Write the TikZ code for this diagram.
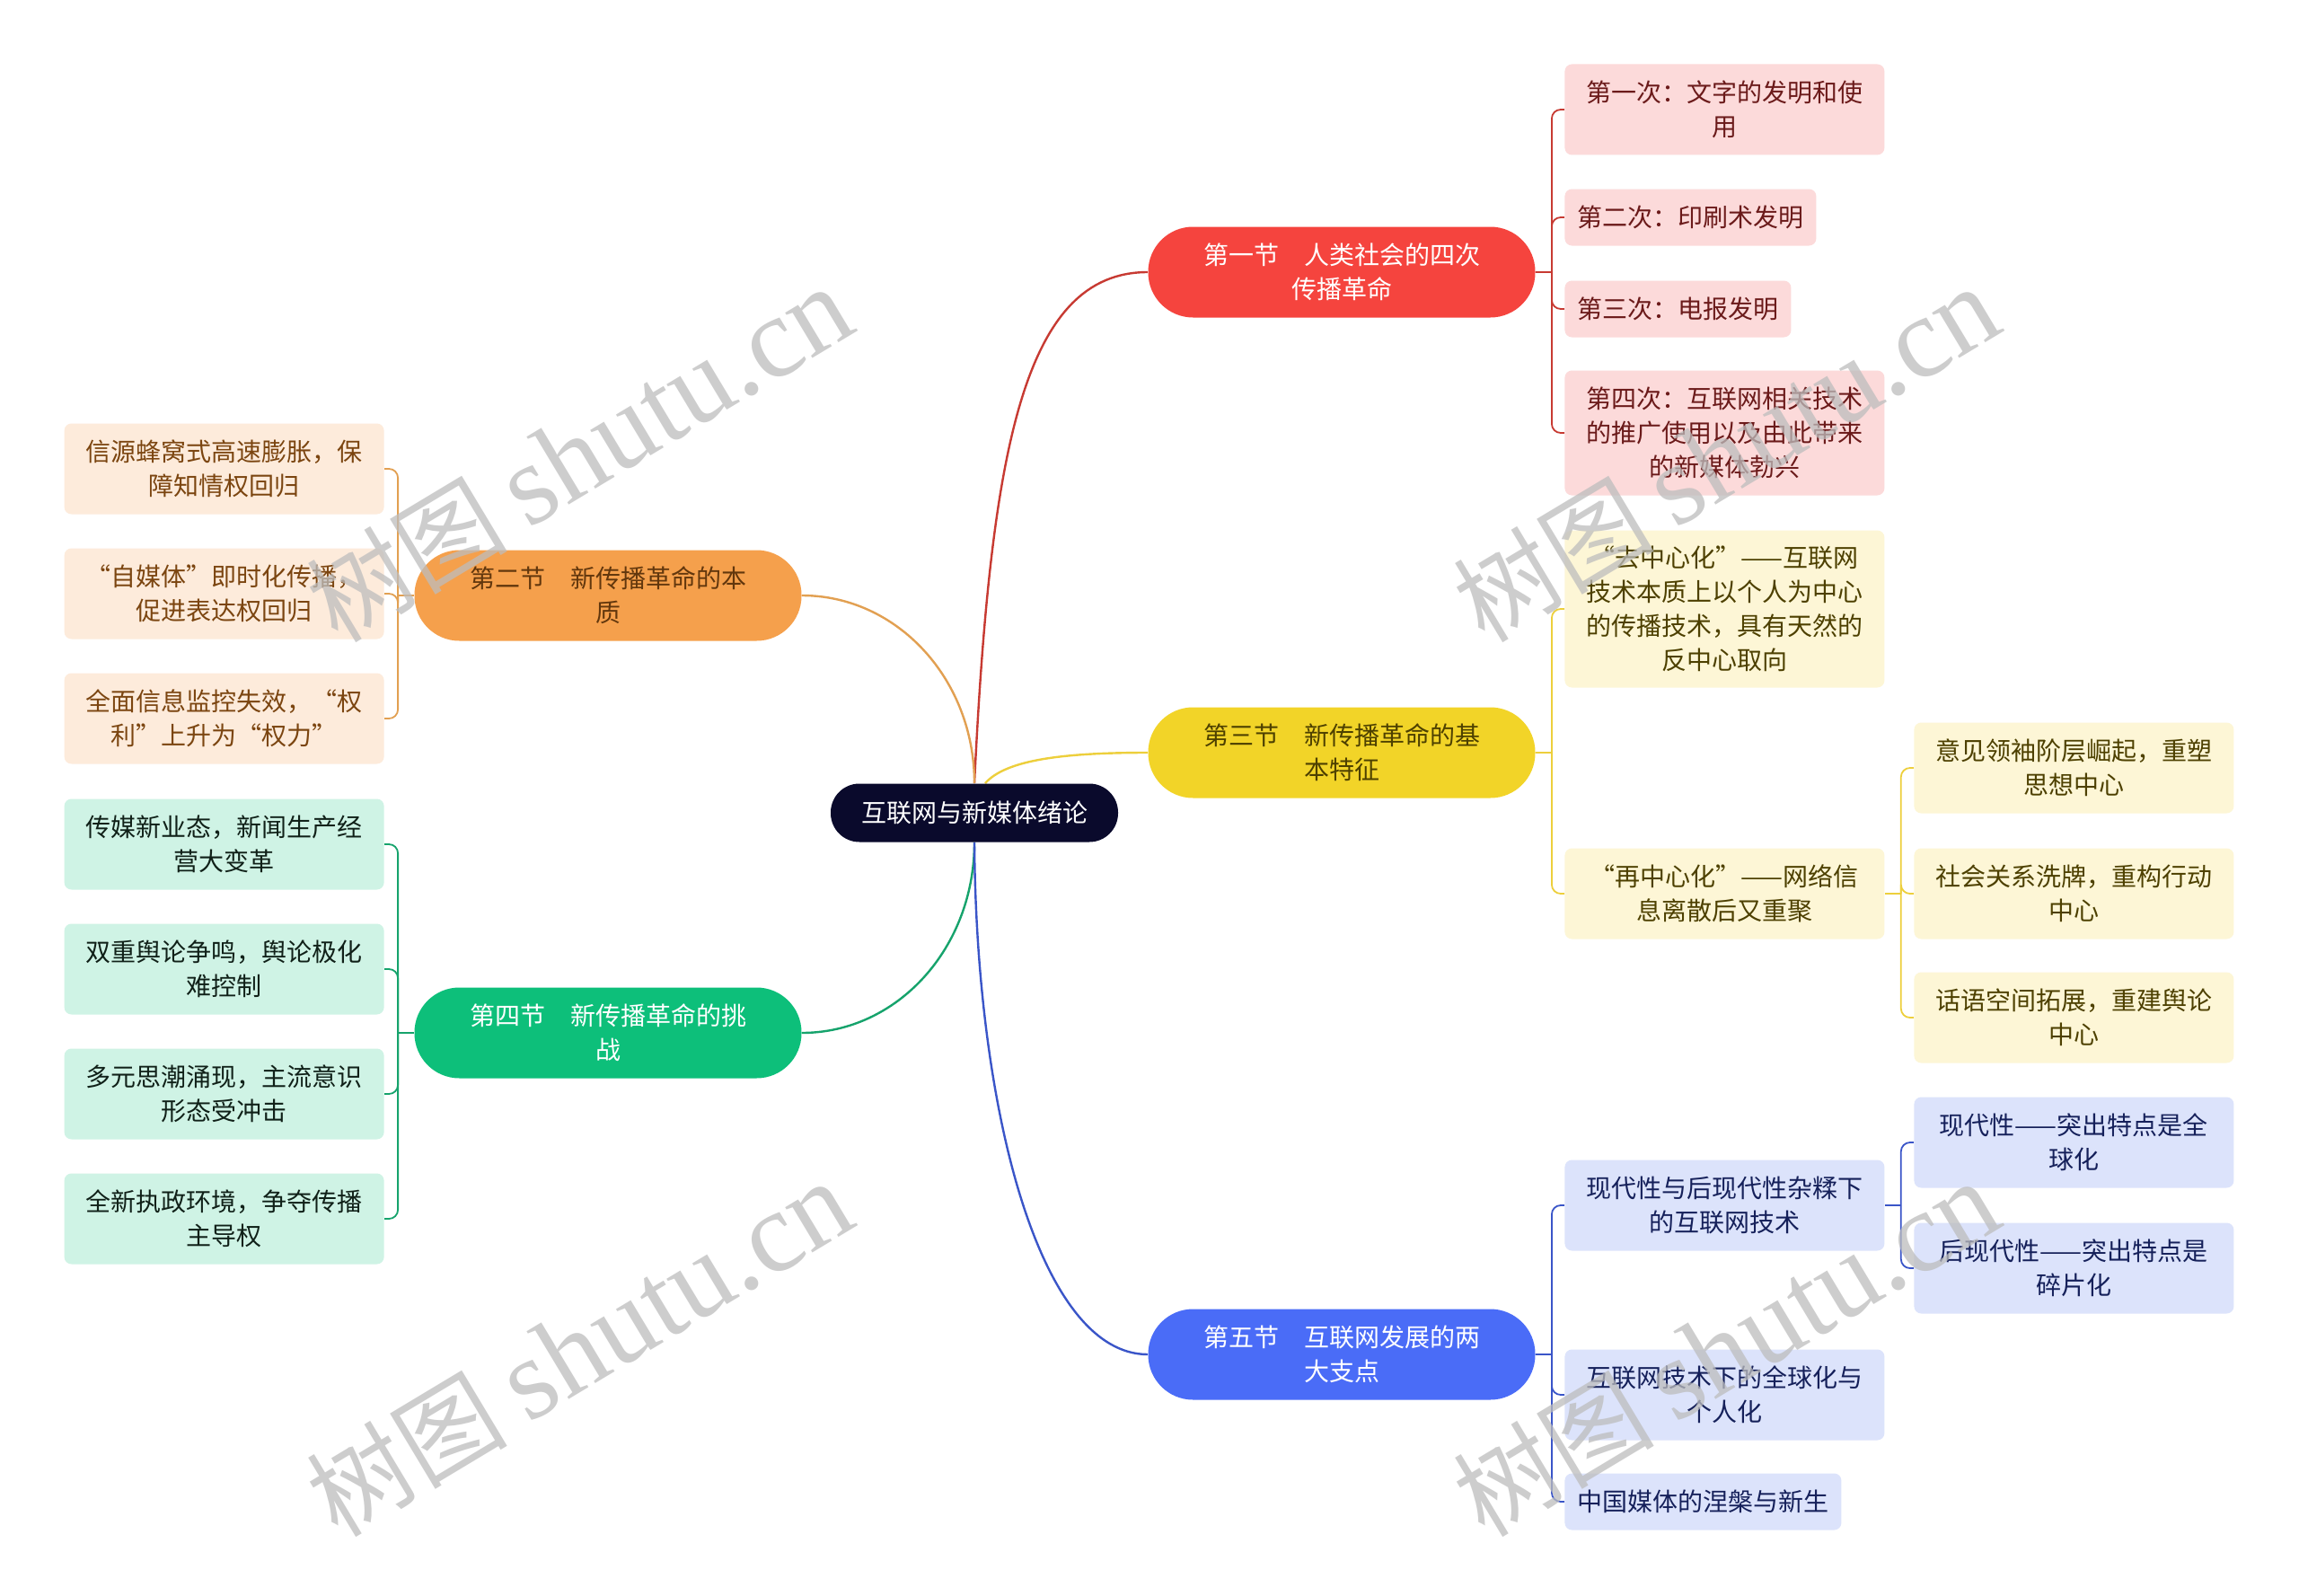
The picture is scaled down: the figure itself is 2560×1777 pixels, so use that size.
\documentclass[tikz,border=0pt]{standalone}
\usepackage{fontspec}
\setmainfont{Noto Sans CJK SC}
\newfontfamily\cjk{Noto Sans CJK SC}
\newfontfamily\wmserif{Liberation Serif}
\usetikzlibrary{backgrounds,calc}
\definecolor{rootc}{HTML}{0A0A2C}
\definecolor{s1c}{HTML}{F5443E}
\definecolor{s2c}{HTML}{F5A04C}
\definecolor{s3c}{HTML}{F2D428}
\definecolor{s4c}{HTML}{0DBF7A}
\definecolor{s5c}{HTML}{4A6CF7}
\definecolor{l1c}{HTML}{C73A32}
\definecolor{l2c}{HTML}{E2A052}
\definecolor{l3c}{HTML}{EDCF3C}
\definecolor{l4c}{HTML}{16A36C}
\definecolor{l5c}{HTML}{3A55C8}
\definecolor{f1c}{HTML}{FCDADA}
\definecolor{f2c}{HTML}{FDEBDB}
\definecolor{f3c}{HTML}{FDF6D6}
\definecolor{f4c}{HTML}{CFF3E5}
\definecolor{f5c}{HTML}{DCE3FB}
\definecolor{t1c}{HTML}{6B1A1A}
\definecolor{t2c}{HTML}{7B4510}
\definecolor{t3c}{HTML}{4D4000}
\definecolor{t4c}{HTML}{102018}
\definecolor{t5c}{HTML}{15205A}
\definecolor{wmc}{HTML}{BDBDBD}
\begin{document}
\begin{tikzpicture}[x=0.5pt,y=-0.5pt,
  txt/.style={font=\fontsize{14pt}{19pt}\selectfont},
  rootnode/.style={txt, fill=rootc, text=white, rounded corners=16pt, minimum width=160pt, minimum height=32.5pt, inner sep=0pt},
  secnode/.style={txt, rounded corners=25pt, minimum width=215.5pt, minimum height=50.5pt, align=center, inner sep=0pt},
  leaf/.style={txt, rounded corners=4pt, inner xsep=7pt, inner ysep=0pt, align=center},
  wide/.style={minimum width=178pt},
  hA/.style={minimum height=31.5pt},
  hB/.style={minimum height=50.5pt},
  hC/.style={minimum height=69.5pt},
  hD/.style={minimum height=87.5pt},
  gA/.style={leaf, fill=f1c, text=t1c, anchor=west},
  gB/.style={leaf, fill=f2c, text=t2c, anchor=east},
  gC/.style={leaf, fill=f3c, text=t3c, anchor=west},
  gD/.style={leaf, fill=f4c, text=t4c, anchor=east},
  gE/.style={leaf, fill=f5c, text=t5c, anchor=west},
  mainline/.style={line width=1.2pt},
  subline/.style={line width=0.9pt, rounded corners=5pt},
  wm/.style={text=wmc, opacity=0.75, rotate=31}
]
\useasboundingbox (0,0) rectangle (2560,1777);
\begin{pgfonlayer}{background}
\fill[white] (0,0) rectangle (2560,1777);
\end{pgfonlayer}

% root and sections
\node[rootnode] (root) at (1085,905) {互联网与新媒体绪论};
\node[secnode, fill=s1c, text=white] (s1) at (1494,303) {第一节　人类社会的四次\\传播革命};
\node[secnode, fill=s2c, text=t2c!80!black] (s2) at (677,663) {第二节　新传播革命的本\\质};
\node[secnode, fill=s3c, text=t3c] (s3) at (1494,838) {第三节　新传播革命的基\\本特征};
\node[secnode, fill=s4c, text=white] (s4) at (677,1150) {第四节　新传播革命的挑\\战};
\node[secnode, fill=s5c, text=white] (s5) at (1494,1508) {第五节　互联网发展的两\\大支点};

% section 1 children
\node[gA, wide, hB] (a1) at (1742,122) {第一次：文字的发明和使\\用};
\node[gA, hA] (a2) at (1742,242) {第二次：印刷术发明};
\node[gA, hA] (a3) at (1742,344) {第三次：电报发明};
\node[gA, wide, hC] (a4) at (1742,482) {第四次：互联网相关技术\\的推广使用以及由此带来\\的新媒体勃兴};

% section 2 children
\node[gB, wide, hB] (f1) at (428,522) {信源蜂窝式高速膨胀，保\\障知情权回归};
\node[gB, wide, hB] (f2) at (428,661) {“自媒体”即时化传播，\\促进表达权回归};
\node[gB, wide, hB] (f3) at (428,800) {全面信息监控失效，“权\\利”上升为“权力”};

% section 3 children
\node[gC, wide, hD] (b1) at (1742,678) {“去中心化”——互联网\\技术本质上以个人为中心\\的传播技术，具有天然的\\反中心取向};
\node[gC, wide, hB] (b2) at (1742,995) {“再中心化”——网络信\\息离散后又重聚};
\node[gC, wide, hB] (c1) at (2131,855) {意见领袖阶层崛起，重塑\\思想中心};
\node[gC, wide, hB] (c2) at (2131,995) {社会关系洗牌，重构行动\\中心};
\node[gC, wide, hB] (c3) at (2131,1133) {话语空间拓展，重建舆论\\中心};

% section 4 children
\node[gD, wide, hB] (g1) at (428,940) {传媒新业态，新闻生产经\\营大变革};
\node[gD, wide, hB] (g2) at (428,1079) {双重舆论争鸣，舆论极化\\难控制};
\node[gD, wide, hB] (g3) at (428,1218) {多元思潮涌现，主流意识\\形态受冲击};
\node[gD, wide, hB] (g4) at (428,1357) {全新执政环境，争夺传播\\主导权};

% section 5 children
\node[gE, wide, hB] (d1) at (1742,1342) {现代性与后现代性杂糅下\\的互联网技术};
\node[gE, wide, hB] (d2) at (1742,1553) {互联网技术下的全球化与\\个人化};
\node[gE, hA] (d3) at (1742,1672) {中国媒体的涅槃与新生};
\node[gE, wide, hB] (e1) at (2131,1272) {现代性——突出特点是全\\球化};
\node[gE, wide, hB] (e2) at (2131,1412) {后现代性——突出特点是\\碎片化};

% junction coordinates
\coordinate (j1) at ($(s1.east)+(18,0)$);
\coordinate (j2) at ($(s2.west)+(-18,0)$);
\coordinate (j3) at ($(s3.east)+(18,0)$);
\coordinate (j3b) at ($(b2.east)+(18,0)$);
\coordinate (j4) at ($(s4.west)+(-18,0)$);
\coordinate (j5) at ($(s5.east)+(18,0)$);
\coordinate (j5a) at ($(d1.east)+(18,0)$);

\begin{pgfonlayer}{background}
% main connectors
\draw[mainline, l1c] (root.north) .. controls ($(root.north)+(18,-373)$) and ($(s1.west)+(-138,0)$) .. (s1.west);
\draw[mainline, l2c] (root.north) .. controls ($(root.north)+(0,-116)$) and ($(s2.east)+(106,0)$) .. (s2.east);
\draw[mainline, l3c] ($(root.north)+(12,0)$) .. controls ($(root.north)+(35,-26)$) and ($(s3.west)+(-95,0)$) .. (s3.west);
\draw[mainline, l4c] (root.south) .. controls ($(root.south)+(0,118)$) and ($(s4.east)+(106,0)$) .. (s4.east);
\draw[mainline, l5c] (root.south) .. controls ($(root.south)+(2,300)$) and ($(s5.west)+(-120,0)$) .. (s5.west);
% section 1
\draw[subline, l1c] (s1.east) -- (j1);
\foreach \n in {a1,a2,a3,a4} \draw[subline, l1c] (j1) |- (\n.west);
% section 2
\draw[subline, l2c] (s2.west) -- (j2);
\foreach \n in {f1,f2,f3} \draw[subline, l2c] (j2) |- (\n.east);
% section 3
\draw[subline, l3c] (s3.east) -- (j3);
\foreach \n in {b1,b2} \draw[subline, l3c] (j3) |- (\n.west);
\draw[subline, l3c] (b2.east) -- (j3b);
\foreach \n in {c1,c2,c3} \draw[subline, l3c] (j3b) |- (\n.west);
% section 4
\draw[subline, l4c] (s4.west) -- (j4);
\foreach \n in {g1,g2,g3,g4} \draw[subline, l4c] (j4) |- (\n.east);
% section 5
\draw[subline, l5c] (s5.east) -- (j5);
\foreach \n in {d1,d2,d3} \draw[subline, l5c] (j5) |- (\n.west);
\draw[subline, l5c] (d1.east) -- (j5a);
\foreach \n in {e1,e2} \draw[subline, l5c] (j5a) |- (\n.west);
\end{pgfonlayer}

% watermarks
\foreach \p/\q [count=\i] in {645/506, 1922/506, 645/1502, 1922/1502}
  \node[wm] (wm\i) at (\p,\q) {\cjk\fontsize{56pt}{62pt}\selectfont 树图\hspace{12pt}\wmserif\fontsize{64pt}{70pt}\selectfont shutu.cn};
\end{tikzpicture}
\end{document}
